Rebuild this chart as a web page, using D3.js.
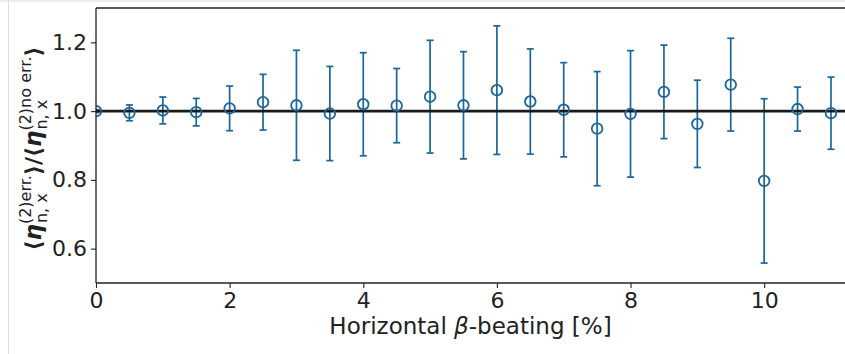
<!DOCTYPE html>
<html><head><meta charset="utf-8">
<script src="https://cdn.jsdelivr.net/npm/d3@7"></script>
<style>body{margin:0;background:#fff}svg{display:block}text{font-family:"DejaVu Sans",sans-serif}</style>
</head><body><svg id="c" width="845" height="354"></svg>
<script>
const beating = [0,0.5,1,1.5,2,2.5,3,3.5,4,4.5,5,5.5,6,6.5,7,7.5,8,8.5,9,9.5,10,10.5,11];
const ratio   = [1.000,0.995,1.002,0.997,1.008,1.026,1.017,0.993,1.020,1.016,1.042,1.017,1.061,1.028,1.004,0.949,0.992,1.056,0.963,1.077,0.797,1.006,0.994];
const errs    = [0.004,0.023,0.039,0.040,0.065,0.081,0.160,0.137,0.150,0.108,0.164,0.156,0.187,0.153,0.137,0.166,0.184,0.136,0.127,0.135,0.239,0.064,0.105];
const xTicks = [0,2,4,6,8,10];
const yTicks = [0.6,0.8,1.0,1.2];

const svg = d3.select("#c");
const L=96, T=8, R=845, B=283;
const x = d3.scaleLinear().domain([0,11.21]).range([L,R]);
const y = d3.scaleLinear().domain([0.5,1.3]).range([B,T]);
const blue = "#1a669a";

// faint frame of source image
svg.append("rect").attr("x",0).attr("y",0).attr("width",845).attr("height",2).attr("fill","#ececec");
svg.append("line").attr("x1",8.5).attr("x2",8.5).attr("y1",0).attr("y2",354).attr("stroke","#dddddd").attr("stroke-width",1);

const clip = svg.append("defs").append("clipPath").attr("id","pc");
clip.append("rect").attr("x",L).attr("y",T).attr("width",R-L).attr("height",B-T);
const pg = svg.append("g").attr("clip-path","url(#pc)");

const data = beating.map((b,i)=>({b, v:ratio[i], e:errs[i]}));
const eb = pg.selectAll("g.eb").data(data).join("g").attr("class","eb");
eb.append("line").attr("x1",d=>x(d.b)).attr("x2",d=>x(d.b))
  .attr("y1",d=>y(d.v+d.e)).attr("y2",d=>y(d.v-d.e)).attr("stroke",blue).attr("stroke-width",1.7);
eb.append("line").attr("x1",d=>x(d.b)-3.5).attr("x2",d=>x(d.b)+3.5)
  .attr("y1",d=>y(d.v+d.e)).attr("y2",d=>y(d.v+d.e)).attr("stroke",blue).attr("stroke-width",1.7);
eb.append("line").attr("x1",d=>x(d.b)-3.5).attr("x2",d=>x(d.b)+3.5)
  .attr("y1",d=>y(d.v-d.e)).attr("y2",d=>y(d.v-d.e)).attr("stroke",blue).attr("stroke-width",1.7);

pg.append("line").attr("x1",L).attr("x2",R).attr("y1",y(1)).attr("y2",y(1))
  .attr("stroke","#1a1a1a").attr("stroke-width",2.6);

pg.selectAll("circle").data(data).join("circle")
  .attr("cx",d=>x(d.b)).attr("cy",d=>y(d.v)).attr("r",5.3)
  .attr("fill","none").attr("stroke",blue).attr("stroke-width",1.8);

// axes
const xa = svg.append("g").attr("transform",`translate(0,${B})`)
  .call(d3.axisBottom(x).tickValues(xTicks).tickFormat(d3.format("d")).tickSizeOuter(0).tickSize(5).tickPadding(4));
const ya = svg.append("g").attr("transform",`translate(${L},0)`)
  .call(d3.axisLeft(y).tickValues(yTicks).tickFormat(d3.format(".1f")).tickSizeOuter(0).tickSize(5).tickPadding(4));
[xa,ya].forEach(a=>{
  a.select(".domain").remove();
  a.selectAll(".tick line").attr("stroke","#222").attr("stroke-width",1.1);
  a.selectAll(".tick text").attr("fill","#222").style("font-size","22px").style("font-family","DejaVu Sans");
});
// spines
svg.append("line").attr("x1",L).attr("x2",L).attr("y1",T).attr("y2",B).attr("stroke","#222").attr("stroke-width",1.3);
svg.append("line").attr("x1",L).attr("x2",R).attr("y1",B).attr("y2",B).attr("stroke","#222").attr("stroke-width",1.3);
svg.append("line").attr("x1",L).attr("x2",R).attr("y1",T).attr("y2",T).attr("stroke","#222").attr("stroke-width",1.3);

// x label
const xl = svg.append("text").attr("x",(L+R)/2).attr("y",334).attr("text-anchor","middle")
  .style("font-size","23px").attr("fill","#222");
xl.append("tspan").text("Horizontal ");
xl.append("tspan").attr("font-style","italic").text("β");
xl.append("tspan").text("-beating [%]");

// y label built piecewise (rotated)
const yl = svg.append("g");
let cur = 0;
function piece(t, size, weight, style, dy){
  return yl.append("text").attr("x",cur).attr("y",dy||0).style("font-size",size+"px")
    .attr("font-weight",weight).attr("font-style",style).attr("fill","#222").text(t);
}
function adv(t,size,weight,style,dy){ const el=piece(t,size,weight,style,dy); cur += el.node().getComputedTextLength(); }
function stack(sup, sub){
  const a=piece(sup,16,"normal","normal",-10), b=piece(sub,16,"normal","normal",6);
  b.attr("x",cur+1);
  cur += Math.max(a.node().getComputedTextLength(), b.node().getComputedTextLength()+1);
}
adv("⟨",22,"bold","normal");
adv("η",23,"bold","italic");
stack("(2)err.","n, x");
adv("⟩",22,"bold","normal");
adv("/",22,"bold","normal");
adv("⟨",22,"bold","normal");
adv("η",23,"bold","italic");
stack("(2)no err.","n, x");
adv("⟩",22,"bold","normal");
yl.attr("transform",`translate(41,${(T+B)/2+3+cur/2}) rotate(-90)`);
</script></body></html>
